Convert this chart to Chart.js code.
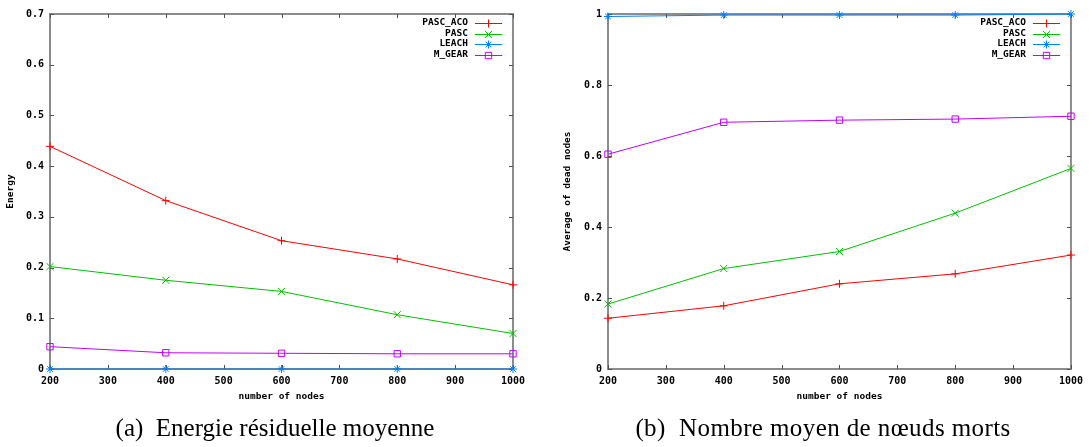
<!DOCTYPE html>
<html>
<head>
<meta charset="utf-8">
<script src="https://cdn.jsdelivr.net/npm/chart.js@4/dist/chart.umd.min.js"></script>
<style>
  html, body { margin:0; padding:0; background:#fff; }
  body { width:1089px; height:447px; position:relative; overflow:hidden; }
  canvas { position:absolute; top:0; }
  #cA { left:0; }
  #cB { left:545px; }
  .cap { position:absolute; font-family:"Liberation Serif","DejaVu Serif",serif; font-size:25px; color:#000; white-space:nowrap; transform:translateX(-50%); }
</style>
</head>
<body>
<canvas id="cA" width="545" height="447"></canvas>
<canvas id="cB" width="544" height="447"></canvas>
<div class="cap" id="capA" style="left:275px; top:414px;">(a)&nbsp; Energie résiduelle moyenne</div>
<div class="cap" id="capB" style="left:823px; top:414px; letter-spacing:0.4px;">(b)&nbsp; Nombre moyen de nœuds morts</div>
<script>
// ---- data ----
const xNodes = [200, 400, 600, 800, 1000];
const seriesNames = ['PASC_ACO', 'PASC', 'LEACH', 'M_GEAR'];

const energyPascAco = [0.439, 0.332, 0.253, 0.217, 0.166];
const energyPasc    = [0.202, 0.175, 0.153, 0.107, 0.070];
const energyLeach   = [0, 0, 0, 0, 0];
const energyMGear   = [0.044, 0.032, 0.031, 0.030, 0.030];

const deadPascAco = [0.143, 0.178, 0.240, 0.268, 0.321];
const deadPasc    = [0.183, 0.283, 0.331, 0.439, 0.565];
const deadLeach   = [0.993, 0.997, 0.997, 0.997, 1.0];
const deadMGear   = [0.605, 0.695, 0.701, 0.704, 0.712];

const xTickLabels      = ['200','300','400','500','600','700','800','900','1000'];
const energyTickLabels = ['0','0.1','0.2','0.3','0.4','0.5','0.6','0.7'];
const deadTickLabels   = ['0','0.2','0.4','0.6','0.8','1'];

// ---- styles ----
const colors = ['#ff0000', '#00c000', '#0080ff', '#c000ff'];
const styles = ['cross', 'crossRot', 'star', 'rect'];
const radii  = [4, 5, 4, 4.5];
const monoLegend = 'bold 9.5px "DejaVu Sans Mono", "Liberation Mono", monospace';

function makeDatasets(arrs) {
  return arrs.map((vals, i) => ({
    label: seriesNames[i],
    data: xNodes.map((x, k) => ({ x: x, y: vals[k] })),
    borderColor: colors[i],
    backgroundColor: 'transparent',
    borderWidth: 1,
    pointStyle: styles[i],
    pointRadius: radii[i],
    pointBorderColor: colors[i],
    pointBackgroundColor: 'transparent',
    pointBorderWidth: 1,
    tension: 0,
    clip: false
  }));
}

function drawMarker(ctx, style, r, x, y, color) {
  ctx.save();
  ctx.strokeStyle = color;
  ctx.fillStyle = 'rgba(0,0,0,0)';
  ctx.lineWidth = 1;
  if (Chart.helpers && Chart.helpers.drawPoint) {
    Chart.helpers.drawPoint(ctx, { pointStyle: style, radius: r, borderWidth: 1, rotation: 0 }, x, y);
  }
  ctx.restore();
}

function framePlugin(yTitle, yTitleX) {
  return {
    id: 'frame',
    beforeDatasetsDraw(chart) {
      const ctx = chart.ctx, a = chart.chartArea;
      const xs = chart.scales.x, ys = chart.scales.y;
      ctx.save();
      ctx.strokeStyle = '#8c8c8c';
      ctx.lineWidth = 2;
      ctx.strokeRect(a.left, a.top, a.right - a.left, a.bottom - a.top);
      ctx.strokeStyle = '#505050';
      ctx.lineWidth = 1;
      ctx.beginPath();
      xs.ticks.forEach(t => {
        const px = Math.round(xs.getPixelForValue(t.value)) + 0.5;
        ctx.moveTo(px, a.bottom); ctx.lineTo(px, a.bottom - 4);
        ctx.moveTo(px, a.top); ctx.lineTo(px, a.top + 4);
      });
      ys.ticks.forEach(t => {
        const py = Math.round(ys.getPixelForValue(t.value)) + 0.5;
        ctx.moveTo(a.left, py); ctx.lineTo(a.left + 4, py);
        ctx.moveTo(a.right, py); ctx.lineTo(a.right - 4, py);
      });
      ctx.stroke();
      // axis titles
      ctx.fillStyle = '#000';
      ctx.font = monoLegend;
      ctx.textAlign = 'center';
      ctx.textBaseline = 'middle';
      ctx.fillText('number of nodes', (a.left + a.right) / 2, a.bottom + 28);
      ctx.save();
      ctx.translate(yTitleX, (a.top + a.bottom) / 2);
      ctx.rotate(-Math.PI / 2);
      ctx.fillText(yTitle, 0, 0);
      ctx.restore();
      ctx.restore();
    },
    afterDatasetsDraw(chart) {
      const ctx = chart.ctx, a = chart.chartArea;
      ctx.save();
      ctx.font = monoLegend;
      ctx.textAlign = 'right';
      ctx.textBaseline = 'middle';
      chart.data.datasets.forEach((ds, i) => {
        const y = a.top + 9 + i * 10.5;
        ctx.fillStyle = '#000';
        ctx.fillText(ds.label, a.right - 45, y);
        ctx.strokeStyle = colors[i];
        ctx.lineWidth = 1;
        ctx.beginPath();
        ctx.moveTo(a.right - 38, Math.round(y) + 0.5);
        ctx.lineTo(a.right - 11, Math.round(y) + 0.5);
        ctx.stroke();
        drawMarker(ctx, styles[i], radii[i], a.right - 24.5, Math.round(y) + 0.5, colors[i]);
      });
      ctx.restore();
    }
  };
}

function makeChart(id, arrs, yMax, yStep, yLabels, yTitle, yTitleX, leftW, rightPad) {
  const canvas = document.getElementById(id);
  return new Chart(canvas, {
    type: 'line',
    data: { datasets: makeDatasets(arrs) },
    options: {
      responsive: false,
      animation: false,
      devicePixelRatio: 1,
      layout: { autoPadding: false, padding: { top: 14, right: rightPad, bottom: 0, left: 0 } },
      plugins: { legend: { display: false }, tooltip: { enabled: false } },
      scales: {
        x: {
          type: 'linear', min: 200, max: 1000,
          afterFit(s) { s.height = 447 - 369; },
          grid: { display: false, drawTicks: false, tickLength: 0 },
          border: { display: false },
          ticks: {
            stepSize: 100, padding: 6, color: '#000', maxRotation: 0, autoSkip: false,
            font: { family: '"DejaVu Sans Mono"', size: 10, weight: 'bold' },
            callback: (v, i) => xTickLabels[i]
          }
        },
        y: {
          type: 'linear', min: 0, max: yMax,
          afterFit(s) { s.width = leftW; },
          grid: { display: false, drawTicks: false, tickLength: 0 },
          border: { display: false },
          ticks: {
            stepSize: yStep, padding: 6, color: '#000', autoSkip: false,
            font: { family: '"DejaVu Sans Mono"', size: 10, weight: 'bold' },
            callback: (v, i) => yLabels[i]
          }
        }
      }
    },
    plugins: [framePlugin(yTitle, yTitleX)]
  });
}

makeChart('cA', [energyPascAco, energyPasc, energyLeach, energyMGear],
  0.7, 0.1, energyTickLabels, 'Energy', 11, 50, 545 - 513);
makeChart('cB', [deadPascAco, deadPasc, deadLeach, deadMGear],
  1, 0.2, deadTickLabels, 'Average of dead nodes', 23, 63, 544 - (1071 - 545));
</script>
</body>
</html>
